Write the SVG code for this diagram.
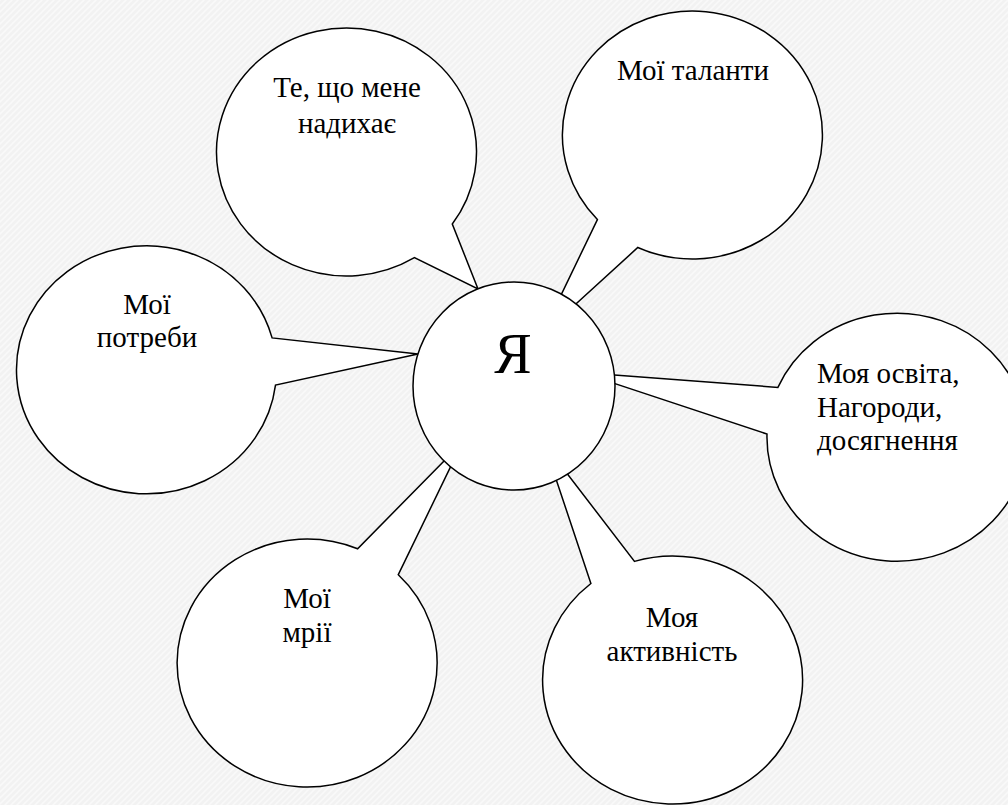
<svg xmlns="http://www.w3.org/2000/svg" width="1008" height="805" viewBox="0 0 1008 805">
  <defs>
    <pattern id="grain" width="6" height="6" patternUnits="userSpaceOnUse">
      <rect width="6" height="6" fill="#f2f2f2"/>
      <path d="M-1.5 7.5 L7.5 -1.5 M-1.5 1.5 L1.5 -1.5 M4.5 7.5 L7.5 4.5" stroke="#f9f9f9" stroke-width="1.6"/>
    </pattern>
  </defs>
  <rect x="0" y="0" width="1008" height="805" fill="url(#grain)"/>

  <g id="connectors">
  </g>

  <g id="node-inspires">
    <path d="M414.4 257.7 A130 124 0 1 1 452.3 224 L478 289 Z" fill="#ffffff" stroke="#000000" stroke-width="1.5"/>
    <text x="347" y="97" style="font-family:'Liberation Serif','Times New Roman',serif;font-size:29px" text-anchor="middle" fill="#000000">Те, що мене</text>
    <text x="347" y="133" style="font-family:'Liberation Serif','Times New Roman',serif;font-size:29px" text-anchor="middle" fill="#000000">надихає</text>
  </g>

  <g id="node-talents">
    <path d="M597.4 219.6 A130 124 0 1 1 637.8 247.5 L541.6 335.3 Z" fill="#ffffff" stroke="#000000" stroke-width="1.5"/>
    <text x="693" y="80" style="font-family:'Liberation Serif','Times New Roman',serif;font-size:29px" text-anchor="middle" fill="#000000">Мої таланти</text>
  </g>

  <g id="node-needs">
    <path d="M275.5 385.1 A130 124 0 1 1 272.1 337.9 L418 354 Z" fill="#ffffff" stroke="#000000" stroke-width="1.5"/>
    <text x="147" y="314" style="font-family:'Liberation Serif','Times New Roman',serif;font-size:29px" text-anchor="middle" fill="#000000">Мої</text>
    <text x="147" y="347" style="font-family:'Liberation Serif','Times New Roman',serif;font-size:29px" text-anchor="middle" fill="#000000">потреби</text>
  </g>

  <g id="node-education">
    <path d="M777.9 387.4 A130 124 0 1 1 767 434 L581 372.4 Z" fill="#ffffff" stroke="#000000" stroke-width="1.5"/>
    <text x="817" y="383" style="font-family:'Liberation Serif','Times New Roman',serif;font-size:29px" fill="#000000">Моя освіта,</text>
    <text x="817" y="416.5" style="font-family:'Liberation Serif','Times New Roman',serif;font-size:29px" fill="#000000">Нагороди,</text>
    <text x="817" y="450" style="font-family:'Liberation Serif','Times New Roman',serif;font-size:29px" fill="#000000">досягнення</text>
  </g>

  <g id="node-dreams">
    <path d="M398.3 574.7 A130 124 0 1 1 357.6 548.8 L462.5 442.2 Z" fill="#ffffff" stroke="#000000" stroke-width="1.5"/>
    <text x="307" y="608" style="font-family:'Liberation Serif','Times New Roman',serif;font-size:29px" text-anchor="middle" fill="#000000">Мої</text>
    <text x="307" y="642" style="font-family:'Liberation Serif','Times New Roman',serif;font-size:29px" text-anchor="middle" fill="#000000">мрії</text>
  </g>

  <g id="node-activity">
    <path d="M634.5 561.4 A130 124 0 1 1 590.9 583.5 L544.2 443.7 Z" fill="#ffffff" stroke="#000000" stroke-width="1.5"/>
    <text x="672" y="627" style="font-family:'Liberation Serif','Times New Roman',serif;font-size:29px" text-anchor="middle" fill="#000000">Моя</text>
    <text x="672" y="661" style="font-family:'Liberation Serif','Times New Roman',serif;font-size:29px" text-anchor="middle" fill="#000000">активність</text>
  </g>

  <g id="node-me">
    <ellipse cx="514" cy="386" rx="101" ry="104" fill="#ffffff" stroke="#000000" stroke-width="1.5"/>
    <text x="513" y="373" style="font-family:'Liberation Serif','Times New Roman',serif;font-size:56px" text-anchor="middle" fill="#000000">Я</text>
  </g>
</svg>
